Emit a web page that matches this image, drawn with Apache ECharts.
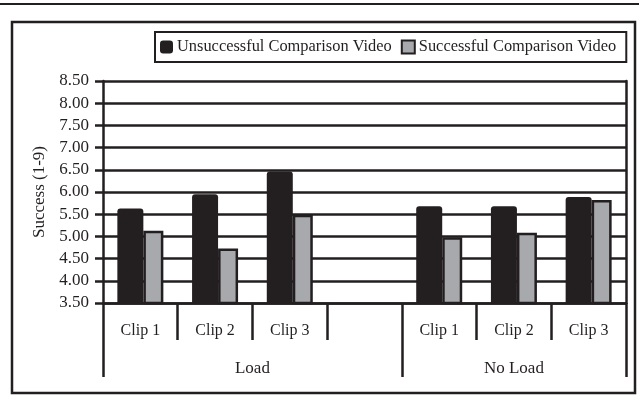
<!DOCTYPE html>
<html>
<head>
<meta charset="utf-8">
<script src="https://cdn.jsdelivr.net/npm/echarts@6/dist/echarts.min.js"></script>
<style>html,body{margin:0;padding:0;background:#fff}#c{width:639px;height:396px}</style>
</head>
<body>
<div id="c"></div>
<script>
const categories = ['Clip 1', 'Clip 2', 'Clip 3', '', 'Clip 1', 'Clip 2', 'Clip 3'];
const groupLabels = ['Load', 'No Load'];
const groupLabelPos = [2, 5.5];
const groupTickPos = [0, 4, 7];
const seriesNames = ['Unsuccessful Comparison Video', 'Successful Comparison Video'];
const unsuccessful = [5.63, 5.95, 6.46, null, 5.68, 5.68, 5.89];
const successful = [5.13, 4.73, 5.49, null, 4.98, 5.08, 5.82];
const yMin = 3.5, yMax = 8.5, yStep = 0.5;

const ink = '#231f20';
const font = '"Liberation Serif", "Times New Roman", serif';
const chart = echarts.init(document.getElementById('c'));
chart.setOption({
  animation: false,
  textStyle: { fontFamily: font, color: ink },
  graphic: [
    { type: 'line', shape: { x1: 0, y1: 4, x2: 639, y2: 4 }, style: { stroke: ink, lineWidth: 2 } },
    { type: 'rect', shape: { x: 12, y: 22, width: 623, height: 371 }, style: { fill: 'none', stroke: ink, lineWidth: 2.5 } }
  ],
  legend: {
    left: 155, top: 32,
    borderColor: ink, borderWidth: 2,
    padding: [7, 10, 7, 5],
    itemWidth: 13, itemHeight: 13, itemGap: 9,
    textStyle: { fontFamily: font, fontSize: 16.4, color: ink, padding: [0, 0, 0, -1] },
    data: [{ name: seriesNames[0], icon: 'roundRect' }, { name: seriesNames[1], icon: 'rect' }]
  },
  grid: { left: 103, right: 13, top: 81, bottom: 93, containLabel: false },
  xAxis: [
    {
      type: 'category', data: categories, position: 'bottom', boundaryGap: true,
      axisLine: { show: true, lineStyle: { color: ink, width: 2.5 } },
      axisTick: { show: true, interval: 0, length: 37, lineStyle: { color: ink, width: 2.5 } },
      axisLabel: { interval: 0, margin: 20, fontFamily: font, fontSize: 16, color: ink }
    },
    {
      type: 'value', min: 0, max: 7, position: 'bottom',
      axisLine: { show: false },
      splitLine: { show: false },
      axisTick: { show: true, length: 74, customValues: groupTickPos, lineStyle: { color: ink, width: 2.5 } },
      axisLabel: {
        margin: 57, fontFamily: font, fontSize: 17, color: ink,
        customValues: groupLabelPos,
        formatter: v => groupLabels[groupLabelPos.indexOf(v)]
      }
    }
  ],
  yAxis: [
    {
      type: 'value', min: yMin, max: yMax, interval: yStep,
      name: 'Success (1-9)', nameLocation: 'middle', nameGap: 53, nameRotate: 90,
      nameTextStyle: { fontFamily: font, fontSize: 17, color: ink },
      axisLine: { show: true, lineStyle: { color: ink, width: 2.5 } },
      axisTick: { show: true, length: 8, lineStyle: { color: ink, width: 2.5 } },
      axisLabel: { margin: 14, fontFamily: font, fontSize: 17, color: ink, formatter: v => v.toFixed(2) },
      splitLine: { show: true, lineStyle: { color: ink, width: 2.5 } }
    },
    {
      type: 'value', min: yMin, max: yMax, interval: yStep, position: 'right',
      axisLine: { show: true, lineStyle: { color: ink, width: 2.5 } },
      axisTick: { show: false }, axisLabel: { show: false }, splitLine: { show: false }
    }
  ],
  series: [
    {
      name: seriesNames[0], type: 'bar', data: unsuccessful, barWidth: 26, barGap: '0%',
      xAxisIndex: 0, yAxisIndex: 0,
      itemStyle: { color: ink, borderRadius: [3, 3, 0, 0] }
    },
    {
      name: seriesNames[1], type: 'bar', data: successful, barWidth: 20, barGap: '0%',
      xAxisIndex: 0, yAxisIndex: 0,
      itemStyle: { color: '#a7a9ac', borderColor: ink, borderWidth: 2.5 }
    }
  ]
});
</script>
</body>
</html>
